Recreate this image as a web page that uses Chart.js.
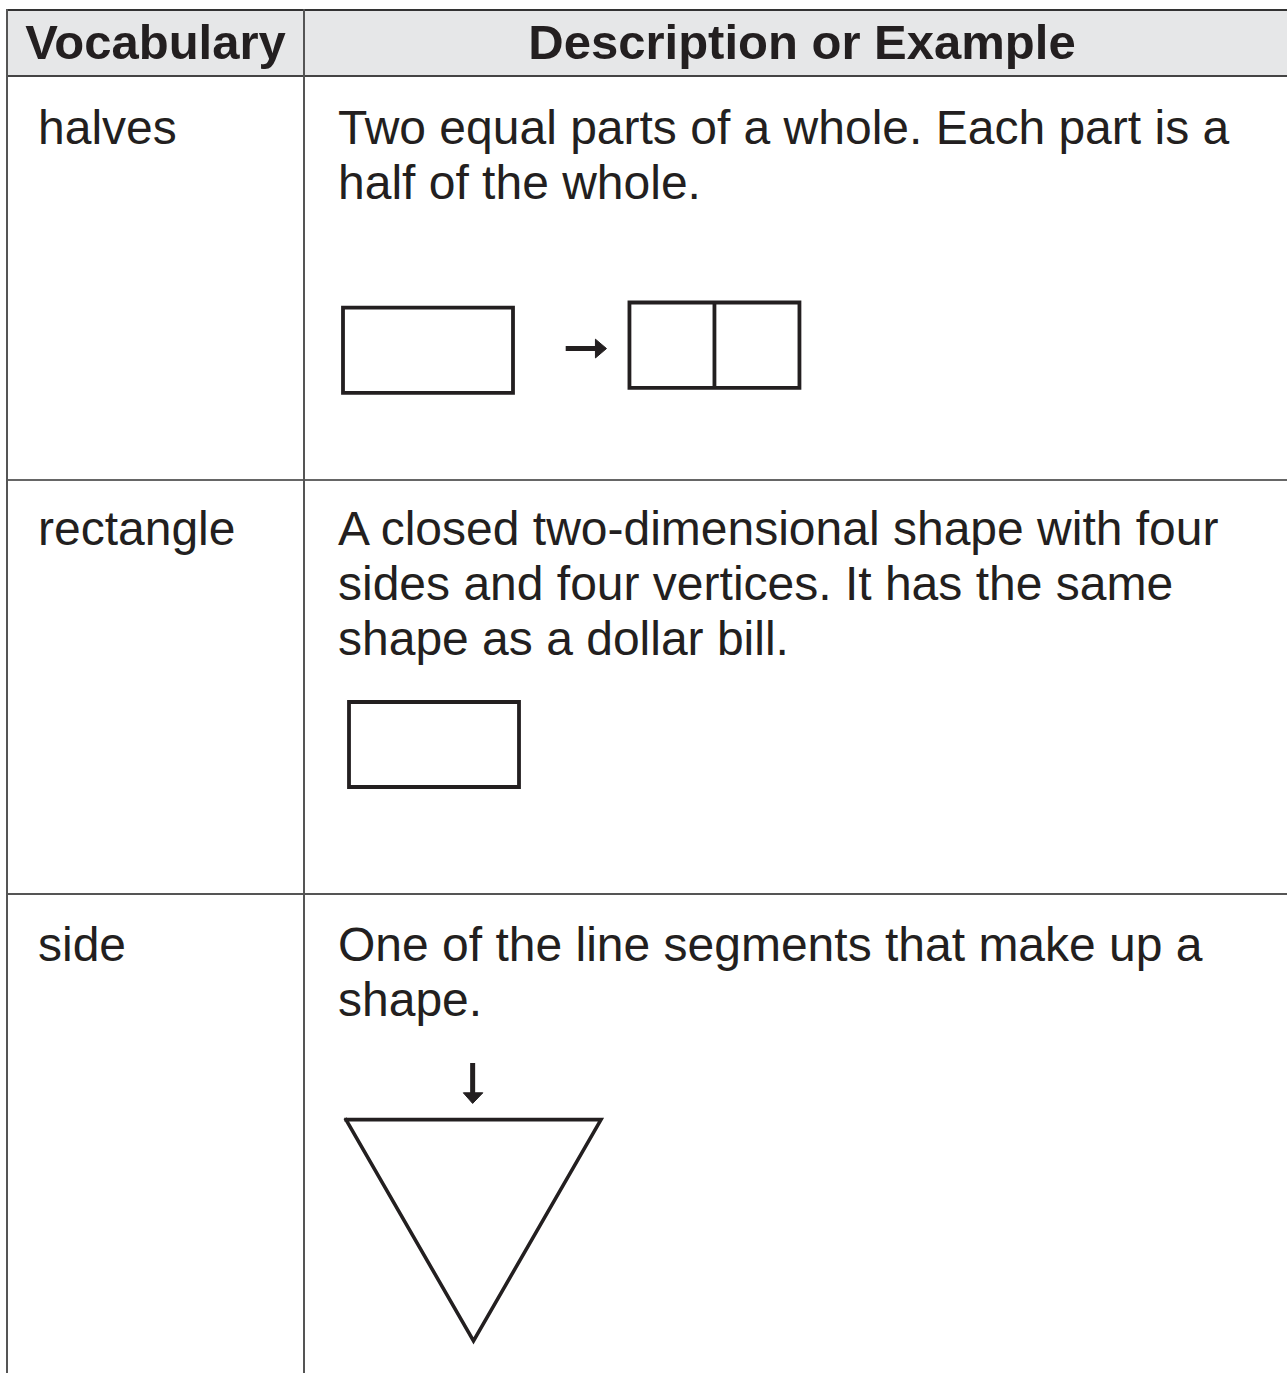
<!DOCTYPE html>
<html>
<head>
<meta charset="utf-8">
<title>Vocabulary</title>
<script src="https://cdn.jsdelivr.net/npm/chart.js@4.4.1/dist/chart.umd.min.js"></script>
<style>
  html, body { margin: 0; padding: 0; background: #fff; }
  body { width: 1287px; height: 1373px; overflow: hidden; position: relative;
         font-family: 'Liberation Sans', Arial, sans-serif; color: #231f20; }
  .rule { position: absolute; background: #4a4a4a; }
  .head { position: absolute; top: 15px; font-size: 49px; line-height: 55px; font-weight: bold; text-align: center; white-space: nowrap; }
  .cell { position: absolute; font-size: 48px; line-height: 55px; white-space: nowrap; }
  canvas { position: absolute; }
</style>
</head>
<body>
<div class="rule" style="left:8px;top:11px;width:1292px;height:64px;background:#e6e7e8"></div>
<div class="rule" style="left:6px;top:9px;width:1294px;height:2px;background:#333"></div>
<div class="rule" style="left:6px;top:75px;width:1294px;height:2px;background:#444"></div>
<div class="rule" style="left:6px;top:479px;width:1294px;height:2px;background:#666"></div>
<div class="rule" style="left:6px;top:893px;width:1294px;height:2px;background:#555"></div>
<div class="rule" style="left:6px;top:9px;width:2px;height:1364px;background:#555"></div>
<div class="rule" style="left:303px;top:9px;width:2px;height:1364px;background:#555"></div>

<div id="table"></div>
<canvas id="figHalves"></canvas>
<canvas id="figRect"></canvas>
<canvas id="figSide"></canvas>

<script>
const headers = ['Vocabulary', 'Description or Example'];
const words = ['halves', 'rectangle', 'side'];
const descriptions = [
  ['Two equal parts of a whole. Each part is a', 'half of the whole.'],
  ['A closed two-dimensional shape with four', 'sides and four vertices. It has the same', 'shape as a dollar bill.'],
  ['One of the line segments that make up a', 'shape.']
];

// figure outlines, in units of one rectangle height, y grows downward
const wholeRect = [[0, 0], [2, 0], [2, 1], [0, 1], [0, 0]];
const halvedRect = [[3.37, -0.06], [5.37, -0.06], [5.37, 0.94], [3.37, 0.94], [3.37, -0.06]];
const halvedCut = [[4.37, -0.06], [4.37, 0.94]];
const rightShaft = [[2.62, 0.48], [3.0, 0.48]];
const rightHead = [[2.97, 0.37], [3.10, 0.48], [2.97, 0.59], [2.97, 0.37]];
const dollarRect = [[0, 0], [2, 0], [2, 1], [0, 1], [0, 0]];
const triangle = [[0, 0], [3, 0], [1.5, 2.6], [0, 0]];
const downShaft = [[1.49, -0.665], [1.49, -0.3]];
const downHead = [[1.38, -0.315], [1.61, -0.315], [1.49, -0.19], [1.38, -0.315]];

const U = 85;
const ink = '#231f20';
const rowTops = [100, 501, 917];

// text of the table
const table = document.getElementById('table');
const colBoxes = [[7, 297], [304, 996]];
headers.forEach((h, i) => {
  const d = document.createElement('div');
  d.className = 'head';
  d.style.left = colBoxes[i][0] + 'px';
  d.style.width = colBoxes[i][1] + 'px';
  d.textContent = h;
  table.appendChild(d);
});
words.forEach((w, i) => {
  const a = document.createElement('div');
  a.className = 'cell';
  a.style.left = '38px';
  a.style.top = rowTops[i] + 'px';
  a.textContent = w;
  table.appendChild(a);
  const b = document.createElement('div');
  b.className = 'cell';
  b.style.left = '338px';
  b.style.top = rowTops[i] + 'px';
  b.innerHTML = descriptions[i].join('<br>');
  table.appendChild(b);
});

function outline(pts, width, cap) {
  return {
    data: pts.map(p => ({ x: p[0], y: p[1] })),
    borderColor: ink,
    borderWidth: width,
    borderCapStyle: cap || 'square',
    borderJoinStyle: 'miter',
    pointRadius: 0,
    tension: 0,
    fill: false
  };
}

function head(pts) {
  return {
    data: pts.map(p => ({ x: p[0], y: p[1] })),
    borderColor: ink,
    borderWidth: 1,
    backgroundColor: ink,
    pointRadius: 0,
    tension: 0,
    fill: 'shape'
  };
}

function drawFigure(id, origin, xr, yr, datasets) {
  const c = document.getElementById(id);
  c.width = Math.round((xr[1] - xr[0]) * U);
  c.height = Math.round((yr[1] - yr[0]) * U);
  c.style.left = (origin[0] + xr[0] * U) + 'px';
  c.style.top = (origin[1] + yr[0] * U) + 'px';
  new Chart(c, {
    type: 'line',
    data: { datasets: datasets },
    options: {
      responsive: false,
      animation: false,
      devicePixelRatio: 1,
      events: [],
      layout: { padding: 0 },
      plugins: { legend: { display: false }, tooltip: { enabled: false } },
      scales: {
        x: { type: 'linear', display: false, min: xr[0], max: xr[1] },
        y: { type: 'linear', display: false, min: yr[0], max: yr[1], reverse: true }
      }
    }
  });
}

drawFigure('figHalves', [343.4, 307.8], [-0.2, 5.6], [-0.3, 1.2], [
  outline(wholeRect, 3.8),
  outline(halvedRect, 3.8),
  outline(halvedCut, 3.8, 'butt'),
  outline(rightShaft, 5, 'butt'),
  head(rightHead)
]);

drawFigure('figRect', [348.8, 702], [-0.2, 2.2], [-0.2, 1.2], [
  outline(dollarRect, 3.8)
]);

drawFigure('figSide', [345.5, 1119.5], [-0.2, 3.2], [-0.9, 2.8], [
  outline(triangle, 3.6),
  outline(downShaft, 5, 'butt'),
  head(downHead)
]);
</script>
</body>
</html>
